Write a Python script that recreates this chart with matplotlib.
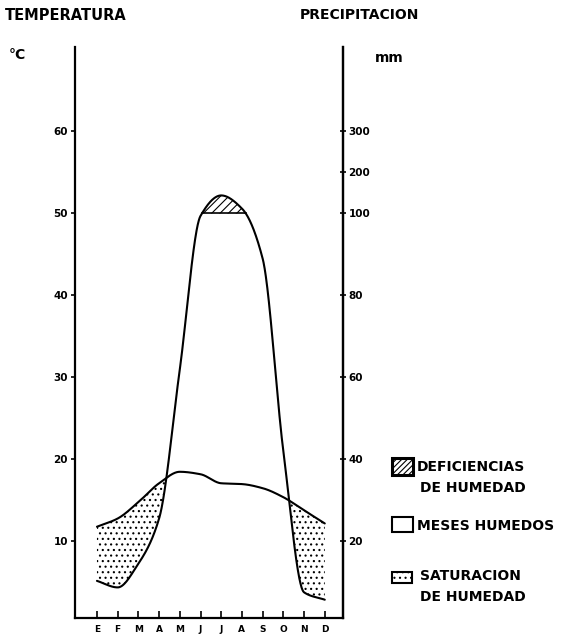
import matplotlib
matplotlib.use("Agg")
import matplotlib.pyplot as plt
from matplotlib.patches import Rectangle
import numpy as np

####### datos ###########
meses = ["E", "F", "M", "A", "M", "J", "J", "A", "S", "O", "N", "D"]
temperatura = [11.8, 12.8, 14.8, 17.1, 18.5, 18.2, 17.1, 17.0, 16.5, 15.4, 13.8, 12.2]   # °C
precipitacion = [10.4, 8.8, 14.6, 25.6, 62, 99.4, 144, 112, 89, 42, 7.6, 5.8]            # mm

ticks_temp = [10, 20, 30, 40, 50, 60]
ticks_prec = [20, 40, 60, 80, 100, 200, 300]


def mm_a_escala(p):
    # 10 °C = 20 mm hasta 100 mm, luego escala reducida (100 mm = 5 °C)
    p = np.asarray(p, dtype=float)
    return np.where(p <= 100, p / 2.0, 50 + (p - 100) / 20.0)


def pchip(x, y, xs):
    # interpolacion cubica monotona (solo para trazar la curva suave)
    x = np.asarray(x, float)
    y = np.asarray(y, float)
    h = np.diff(x)
    d = np.diff(y) / h
    m = np.zeros_like(y)
    for k in range(1, len(y) - 1):
        if d[k - 1] * d[k] > 0:
            w1 = 2 * h[k] + h[k - 1]
            w2 = h[k] + 2 * h[k - 1]
            m[k] = (w1 + w2) / (w1 / d[k - 1] + w2 / d[k])
    m[0] = d[0]
    m[-1] = d[-1]
    idx = np.clip(np.searchsorted(x, xs) - 1, 0, len(x) - 2)
    t = (xs - x[idx]) / h[idx]
    h00 = 2 * t**3 - 3 * t**2 + 1
    h10 = t**3 - 2 * t**2 + t
    h01 = -2 * t**3 + 3 * t**2
    h11 = t**3 - t**2
    return h00 * y[idx] + h10 * h[idx] * m[idx] + h01 * y[idx + 1] + h11 * h[idx] * m[idx + 1]


x = np.arange(len(meses))
xs = np.linspace(0, len(meses) - 1, 600)
T = pchip(x, temperatura, xs)
P = pchip(x, mm_a_escala(precipitacion), xs)

plt.rcParams['font.family'] = ['DejaVu Sans']
plt.rcParams['font.weight'] = 'bold'
plt.rcParams['hatch.linewidth'] = 0.8

W, H = 574, 639
fig = plt.figure(figsize=(W / 100, H / 100), dpi=100)
ax = fig.add_axes([75 / W, 21 / H, (343 - 75) / W, (618 - 47) / H])

# saturacion (punteado)
ax.fill_between(xs, P, T, where=P < T, facecolor='white', edgecolor='black',
                hatch='...', linewidth=0, interpolate=True)
# casquete > 100 mm
ax.fill_between(xs, 50, P, where=P > 50, facecolor='white', edgecolor='black',
                hatch='////', linewidth=0, interpolate=True)
sel = P > 50
ax.plot([xs[sel][0], xs[sel][-1]], [50, 50], color='black', lw=1.2)

ax.plot(xs, T, color='black', lw=1.5, solid_capstyle='round')
ax.plot(xs, P, color='black', lw=1.5, solid_capstyle='round')

ax.set_xlim(-1.06, 11.88)
ax.set_ylim(0.67, 70.3)

for s in ['left', 'right', 'bottom']:
    ax.spines[s].set_linewidth(1.6)
ax.spines['top'].set_visible(False)

ax.set_xticks(x)
ax.set_xticklabels(meses, fontsize=6.5, fontweight='bold')
ax.tick_params(axis='x', direction='in', length=5, width=1.2, pad=5)
ax.set_yticks(ticks_temp)
ax.set_yticklabels([str(v) for v in ticks_temp], fontsize=7.5, fontweight='bold')
ax.tick_params(axis='y', direction='out', length=3, width=1.2, pad=2)

ax2 = ax.twinx()
ax2.set_ylim(ax.get_ylim())
ax2.set_yticks(mm_a_escala(ticks_prec))
ax2.set_yticklabels([str(v) for v in ticks_prec], fontsize=7.5, fontweight='bold')
ax2.tick_params(axis='y', direction='inout', length=4, width=1.2, pad=2)
for s in ['left', 'top', 'bottom']:
    ax2.spines[s].set_visible(False)
ax2.spines['right'].set_linewidth(1.6)


def ftxt(px, py, s, **kw):
    fig.text(px / W, 1 - py / H, s, fontsize=kw.pop('fontsize', 10), fontweight='bold',
             va='center', **kw)


ftxt(5, 15, "TEMPERATURA", fontsize=10.5)
ftxt(300, 15, "PRECIPITACION")
ftxt(9, 55, "°C")
ftxt(375, 58, "mm")

# leyenda
def caja(x0, y0, x1, y1, hatch=None, lw=1.5):
    fig.patches.append(Rectangle((x0 / W, 1 - y1 / H), (x1 - x0) / W, (y1 - y0) / H,
                                 transform=fig.transFigure, facecolor='white',
                                 edgecolor='black', hatch=hatch, linewidth=lw))

caja(392, 458, 413, 475, hatch='//////', lw=2.2)
ftxt(417, 467, "DEFICIENCIAS")
ftxt(420, 488, "DE HUMEDAD")
caja(392, 517, 413, 532)
ftxt(417, 526, "MESES HUMEDOS")
caja(392, 572, 412, 583, hatch='...', lw=1.5)
ftxt(420, 576, "SATURACION")
ftxt(420, 597, "DE HUMEDAD")

fig.savefig("out.png", dpi=100)
